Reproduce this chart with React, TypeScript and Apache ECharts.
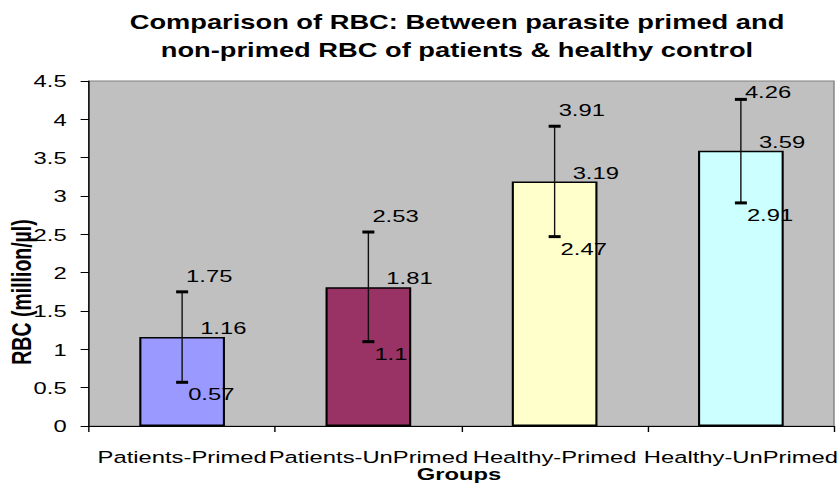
import React, { useEffect, useRef } from "react";
import * as echarts from "echarts";

const categories = ["Patients-Primed", "Patients-UnPrimed", "Healthy-Primed", "Healthy-UnPrimed"];
const means = [1.16, 1.81, 3.19, 3.59];
const lows = [0.57, 1.1, 2.47, 2.91];
const highs = [1.75, 2.53, 3.91, 4.26];
const barColors = ["#9999ff", "#993366", "#ffffcc", "#ccffff"];
const yMin = 0;
const yMax = 4.5;
const yStep = 0.5;
const titleLines = [
  "Comparison of RBC: Between parasite primed and",
  "non-primed RBC of patients & healthy control",
];
const yName = "RBC (million/µl)";
const xName = "Groups";

const FULL_W = 838;
const H = 486;
const S = 1.4;
const W = Math.round(FULL_W / S);
const SX = FULL_W / W;
const FONT = "'Liberation Sans', Arial, Helvetica, sans-serif";

export default function App() {
  const ref = useRef<HTMLDivElement>(null);
  useEffect(() => {
    if (!ref.current) return;
    const chart = echarts.init(ref.current, undefined, { renderer: "svg" });
    const option: any = {
      animation: false,
      backgroundColor: "#ffffff",
      textStyle: { fontFamily: FONT },
      grid: {
        left: 89 / SX,
        right: 4 / SX,
        top: 81,
        bottom: 60,
        show: true,
        backgroundColor: "#c0c0c0",
        borderColor: "#808080",
        borderWidth: 1,
        containLabel: false,
        outerBoundsMode: "none",
      },
      graphic: [
        {
          type: "text",
          x: 457 / SX,
          y: 22,
          style: {
            text: titleLines[0],
            fontSize: 19.5,
            fontWeight: "bold",
            fontFamily: FONT,
            fill: "#000",
            align: "center",
            verticalAlign: "middle",
          },
        },
        {
          type: "text",
          x: 457 / SX,
          y: 50,
          style: {
            text: titleLines[1],
            fontSize: 19.5,
            fontWeight: "bold",
            fontFamily: FONT,
            fill: "#000",
            align: "center",
            verticalAlign: "middle",
          },
        },
        {
          type: "text",
          x: 22 / SX,
          y: 292,
          rotation: Math.PI / 2,
          style: {
            text: yName,
            fontSize: 19.5,
            fontWeight: "bold",
            fontFamily: FONT,
            fill: "#000",
            align: "center",
            verticalAlign: "middle",
          },
        },
        {
          type: "text",
          x: 459 / SX,
          y: 474,
          style: {
            text: xName,
            fontSize: 17,
            fontWeight: "bold",
            fontFamily: FONT,
            fill: "#000",
            align: "center",
            verticalAlign: "middle",
          },
        },
      ],
      xAxis: {
        type: "category",
        data: categories,
        axisLine: { show: true, lineStyle: { color: "#000", width: 1 } },
        axisTick: { show: true, length: 6, lineStyle: { color: "#000" } },
        axisLabel: { interval: 0, fontSize: 17, color: "#000", margin: 22, fontFamily: FONT },
        splitLine: { show: false },
      },
      yAxis: {
        type: "value",
        min: yMin,
        max: yMax,
        interval: yStep,
        axisLine: { show: true, lineStyle: { color: "#000", width: 1 } },
        axisTick: { show: true, length: 6, lineStyle: { color: "#000" } },
        axisLabel: { fontSize: 17, color: "#000", margin: 16, fontFamily: FONT },
        splitLine: { show: false },
      },
      series: [
        {
          type: "bar",
          barWidth: "46%",
          data: means.map((v, i) => ({
            value: v,
            itemStyle: { color: barColors[i], borderColor: "#000", borderWidth: 1.5 },
          })),
          z: 2,
        },
        {
          type: "custom",
          z: 5,
          encode: { x: 0, y: [1, 2] },
          data: categories.map((_, i) => [i, lows[i], highs[i], means[i]]),
          renderItem: (params: any, api: any) => {
            const i = api.value(0);
            const lo = api.value(1);
            const hi = api.value(2);
            const m = api.value(3);
            const pHi = api.coord([i, hi]);
            const pLo = api.coord([i, lo]);
            const pM = api.coord([i, m]);
            const cx = pHi[0];
            const capHalf = 6 / SX;
            const top = params.coordSys.y;
            const txt = (t: string, x: number, y: number) => ({
              type: "text",
              x,
              y,
              style: {
                text: t,
                fontSize: 17,
                fontFamily: FONT,
                fill: "#000",
                align: "left",
                verticalAlign: "middle",
              },
            });
            return {
              type: "group",
              children: [
                {
                  type: "line",
                  shape: { x1: cx, y1: pHi[1], x2: cx, y2: pLo[1] },
                  style: { stroke: "#111", lineWidth: 1 },
                },
                {
                  type: "line",
                  shape: { x1: cx - capHalf, y1: pHi[1], x2: cx + capHalf, y2: pHi[1] },
                  style: { stroke: "#000", lineWidth: 3 },
                },
                {
                  type: "line",
                  shape: { x1: cx - capHalf, y1: pLo[1], x2: cx + capHalf, y2: pLo[1] },
                  style: { stroke: "#000", lineWidth: 3 },
                },
                txt(String(hi), cx + 4 / SX, Math.max(pHi[1] - 16, top + 11)),
                txt(String(m), cx + 18 / SX, pM[1] - 9),
                txt(String(lo), cx + 6 / SX, pLo[1] + 12),
              ],
            };
          },
        },
      ],
    };
    chart.setOption(option);
    return () => chart.dispose();
  }, []);
  return (
    <div
      style={{ position: "fixed", left: 0, top: 0, width: FULL_W, height: H, overflow: "hidden", background: "#fff" }}
    >
      <div
        ref={ref}
        style={{
          width: W,
          height: H,
          transform: `scaleX(${SX})`,
          transformOrigin: "0 0",
        }}
      />
    </div>
  );
}
